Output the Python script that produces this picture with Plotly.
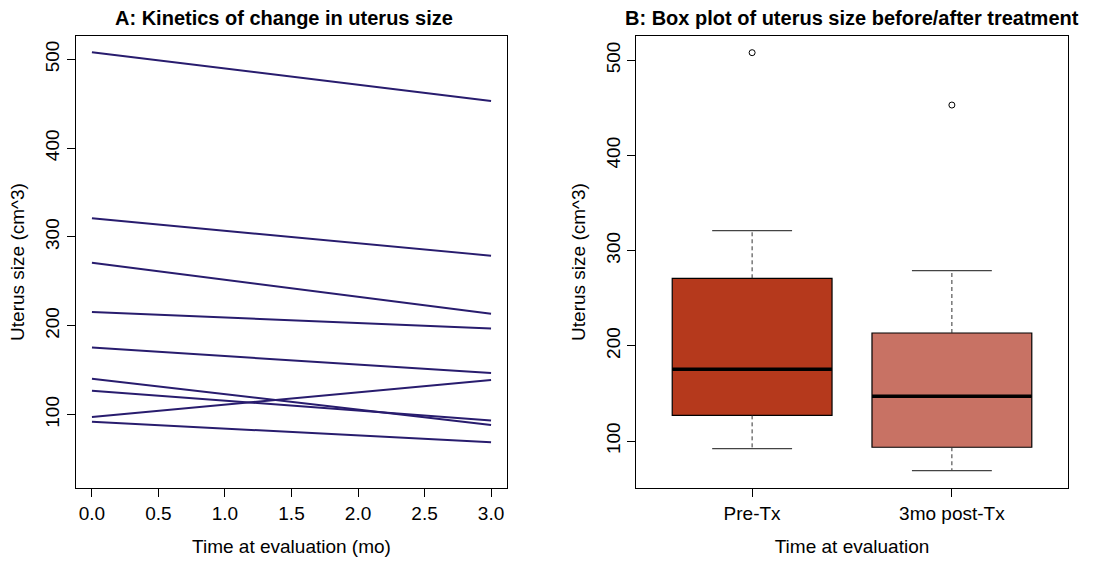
import numpy as np
import plotly.graph_objects as go

# ---- data ----
months = [0, 3]
pre_tx = [508, 321, 271, 215.5, 175.5, 140.5, 127, 97.5, 92]
post_tx = [453, 279, 213.5, 197, 147, 88.5, 93.5, 139, 69]
groups = ["Pre-Tx", "3mo post-Tx"]
box_colors = ["#B5391C", "#C87264"]
line_color = "#281C6E"
x_ticks = [0.0, 0.5, 1.0, 1.5, 2.0, 2.5, 3.0]
y_ticks = [100, 200, 300, 400, 500]

FONT = "Liberation Sans, Arial, sans-serif"
TS = 19


def fivenum(v):
    v = np.sort(np.asarray(v, dtype=float))
    n = len(v)
    n4 = np.floor((n + 3) / 2) / 2
    d = np.array([1, n4, (n + 1) / 2, n + 1 - n4, n]) - 1
    return 0.5 * (v[np.floor(d).astype(int)] + v[np.ceil(d).astype(int)])


fig = go.Figure()

# ---- panel A: spaghetti lines ----
for a, b in zip(pre_tx, post_tx):
    fig.add_trace(go.Scatter(x=months, y=[a, b], mode="lines",
                             line=dict(color=line_color, width=2),
                             xaxis="x", yaxis="y", showlegend=False,
                             hoverinfo="skip"))

# ---- panel B: boxplots ----
for i, (vals, col) in enumerate(zip([pre_tx, post_tx], box_colors)):
    pos = i + 1
    mn, q1, med, q3, mx = fivenum(vals)
    iqr = q3 - q1
    arr = np.asarray(vals, dtype=float)
    inside = arr[(arr >= q1 - 1.5 * iqr) & (arr <= q3 + 1.5 * iqr)]
    lo, hi = inside.min(), inside.max()
    outl = arr[(arr < q1 - 1.5 * iqr) | (arr > q3 + 1.5 * iqr)]

    fig.add_trace(go.Box(x=[pos], q1=[q1], median=[med], q3=[q3],
                         lowerfence=[q1], upperfence=[q3],
                         width=0.8, fillcolor=col,
                         line=dict(color="black", width=1.2),
                         boxpoints=False, whiskerwidth=0,
                         xaxis="x2", yaxis="y2", showlegend=False))
    # median
    fig.add_trace(go.Scatter(x=[pos - 0.4, pos + 0.4], y=[med, med], mode="lines",
                             line=dict(color="black", width=3.5),
                             xaxis="x2", yaxis="y2", showlegend=False))
    # whiskers (dashed)
    for end, start in [(hi, q3), (lo, q1)]:
        fig.add_trace(go.Scatter(x=[pos, pos], y=[start, end], mode="lines",
                                 line=dict(color="#333333", width=1, dash="4px,3px"),
                                 xaxis="x2", yaxis="y2", showlegend=False))
        fig.add_trace(go.Scatter(x=[pos - 0.2, pos + 0.2], y=[end, end], mode="lines",
                                 line=dict(color="#444444", width=1.2),
                                 xaxis="x2", yaxis="y2", showlegend=False))
    # outliers
    fig.add_trace(go.Scatter(x=[pos] * len(outl), y=list(outl), mode="markers",
                             marker=dict(symbol="circle-open", size=6,
                                         color="black", line=dict(width=1)),
                             xaxis="x2", yaxis="y2", showlegend=False))

axis_common = dict(showline=True, mirror=True, linecolor="black", linewidth=1,
                   showgrid=False, zeroline=False, ticks="outside", ticklen=8,
                   tickcolor="black", tickfont=dict(family=FONT, size=TS, color="black"))

fig.update_layout(
    width=1119, height=562,
    margin=dict(l=0, r=0, t=0, b=0),
    paper_bgcolor="white", plot_bgcolor="white",
    font=dict(family=FONT, color="black"),
    xaxis=dict(domain=[0.0679, 0.4531], range=[-0.12, 3.12],
               tickvals=x_ticks, ticktext=[f"{t:.1f}" for t in x_ticks],
               title=dict(text="Time at evaluation (mo)", font=dict(size=TS), standoff=16),
               anchor="y", **axis_common),
    yaxis=dict(domain=[0.1317, 0.9359], range=[17.5, 526.2],
               tickvals=y_ticks, tickangle=-90,
               title=dict(text="Uterus size (cm^3)", font=dict(size=TS), standoff=12),
               anchor="x", **axis_common),
    xaxis2=dict(domain=[0.5686, 0.9542], range=[0.42, 2.58],
                tickvals=[1, 2], ticktext=groups,
                title=dict(text="Time at evaluation", font=dict(size=TS), standoff=16),
                anchor="y2", **axis_common),
    yaxis2=dict(domain=[0.1317, 0.9359], range=[50.7, 525.5],
                tickvals=y_ticks, tickangle=-90,
                title=dict(text="Uterus size (cm^3)", font=dict(size=TS), standoff=12),
                anchor="x2", **axis_common),
    annotations=[
        dict(text="<b>A: Kinetics of change in uterus size</b>", x=284 / 1119, y=1 - 18 / 562,
             xref="paper", yref="paper", xanchor="center", yanchor="middle",
             showarrow=False, font=dict(family=FONT, size=20, color="black")),
        dict(text="<b>B: Box plot of uterus size before/after treatment</b>", x=0.7614,
             y=1 - 18 / 562, xref="paper", yref="paper", xanchor="center",
             yanchor="middle", showarrow=False,
             font=dict(family=FONT, size=20, color="black")),
    ],
)

fig.write_html("out.html")
